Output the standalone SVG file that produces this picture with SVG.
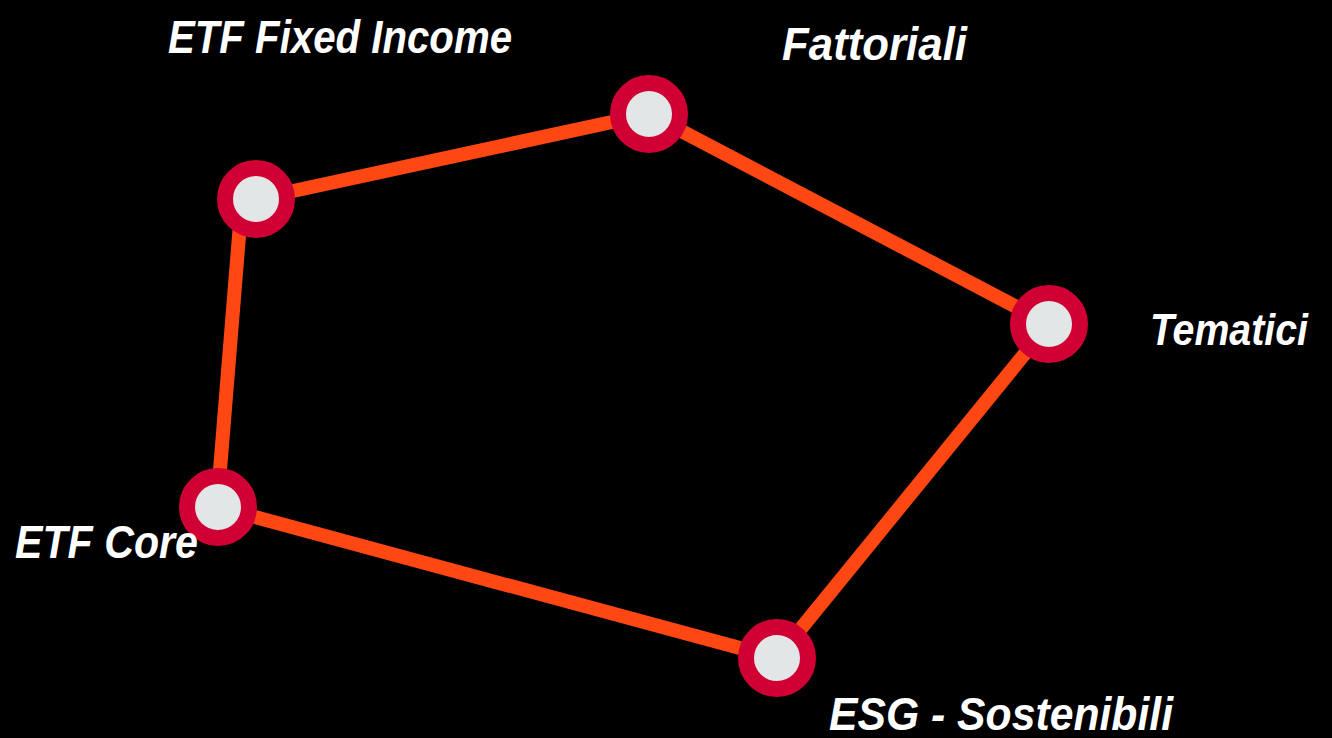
<svg xmlns="http://www.w3.org/2000/svg" width="1332" height="738" viewBox="0 0 1332 738">
  <style>
    .edge { stroke: #ff4713; stroke-width: 14; fill: none; stroke-linecap: butt; }
    .node { fill: #e3e6e7; stroke: #d10034; stroke-width: 16; }
    .label { fill: #ffffff; font-family: "Liberation Sans", "DejaVu Sans", sans-serif; font-weight: bold; font-style: italic; font-size: 46px; }
  </style>
  <rect x="0" y="0" width="1332" height="738" fill="#000000"/>
  <g id="connectors">
    <line class="edge" x1="256" y1="199" x2="649" y2="114"/>
    <line class="edge" x1="649" y1="114" x2="1049" y2="324"/>
    <line class="edge" x1="1049" y1="324" x2="777" y2="658"/>
    <line class="edge" x1="777" y1="658" x2="218" y2="507"/>
    <line class="edge" x1="217" y1="507" x2="242" y2="199"/>
  </g>
  <g id="node-fixed-income">
    <circle class="node" cx="256" cy="199" r="31"/>
  </g>
  <g id="node-fattoriali">
    <circle class="node" cx="649" cy="114" r="31"/>
  </g>
  <g id="node-tematici">
    <circle class="node" cx="1049" cy="324" r="31"/>
  </g>
  <g id="node-esg">
    <circle class="node" cx="777" cy="658" r="31"/>
  </g>
  <g id="node-core">
    <circle class="node" cx="218" cy="507" r="31"/>
  </g>
  <g id="labels">
    <text class="label" x="168" y="53" textLength="344" lengthAdjust="spacingAndGlyphs">ETF Fixed Income</text>
    <text class="label" x="782" y="60" textLength="185" lengthAdjust="spacingAndGlyphs">Fattoriali</text>
    <text class="label" x="1150" y="345" textLength="158" lengthAdjust="spacingAndGlyphs" style="font-size:44px">Tematici</text>
    <text class="label" x="15" y="558" textLength="183" lengthAdjust="spacingAndGlyphs">ETF Core</text>
    <text class="label" x="829" y="730" textLength="344" lengthAdjust="spacingAndGlyphs">ESG - Sostenibili</text>
  </g>
</svg>
